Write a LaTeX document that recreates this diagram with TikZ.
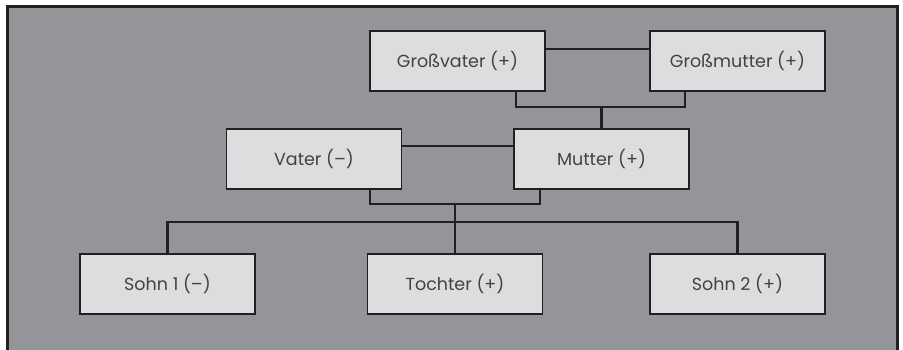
\documentclass[tikz,border=0pt]{standalone}
\usepackage{fontspec}
\setmainfont{Poppins}
\definecolor{bg}{HTML}{939598}
\definecolor{boxfill}{HTML}{DCDDDF}
\definecolor{ink}{HTML}{231F20}
\begin{document}
\begin{tikzpicture}[x=1pt,y=-1pt,
  person/.style={draw=ink,line width=1.3pt,fill=boxfill,minimum width=175pt,minimum height=60pt,inner sep=0pt,font=\fontsize{17.5}{20}\selectfont,text=ink!85},
  link/.style={draw=ink,line width=2.6pt}]
\useasboundingbox (0,0) rectangle (903,349);
\clip (0,0) rectangle (903,349);
\fill[white] (0,0) rectangle (903,349);
\draw[ink,line width=3pt,fill=bg] (7,6) rectangle (897,370);
\node[person] (gv) at (457.5,61) {Großvater (+)};
\node[person] (gm) at (737.5,61) {Großmutter (+)};
\node[person] (va) at (314,159) {Vater (–)};
\node[person] (mu) at (601.5,159) {Mutter (+)};
\node[person] (s1) at (167.5,284) {Sohn 1 (–)};
\node[person] (to) at (455,284) {Tochter (+)};
\node[person] (s2) at (737.5,284) {Sohn 2 (+)};
\coordinate (gp) at (601.5,107);
\coordinate (pp) at (455,204);
\coordinate (cj) at (455,222);
\draw[link] ([yshift=12pt]gv.east) -- ([yshift=12pt]gm.west);
\draw[link] ([xshift=58.5pt]gv.south) |- (gp) -| ([xshift=-52.5pt]gm.south);
\draw[link] (gp) -- (mu.north);
\draw[link] ([yshift=13pt]va.east) -- ([yshift=13pt]mu.west);
\draw[link] ([xshift=56pt]va.south) |- (pp) -| ([xshift=-61.5pt]mu.south);
\draw[link] (pp) -- (to.north);
\draw[link] (s1.north) |- (cj) -| (s2.north);
\end{tikzpicture}
\end{document}
